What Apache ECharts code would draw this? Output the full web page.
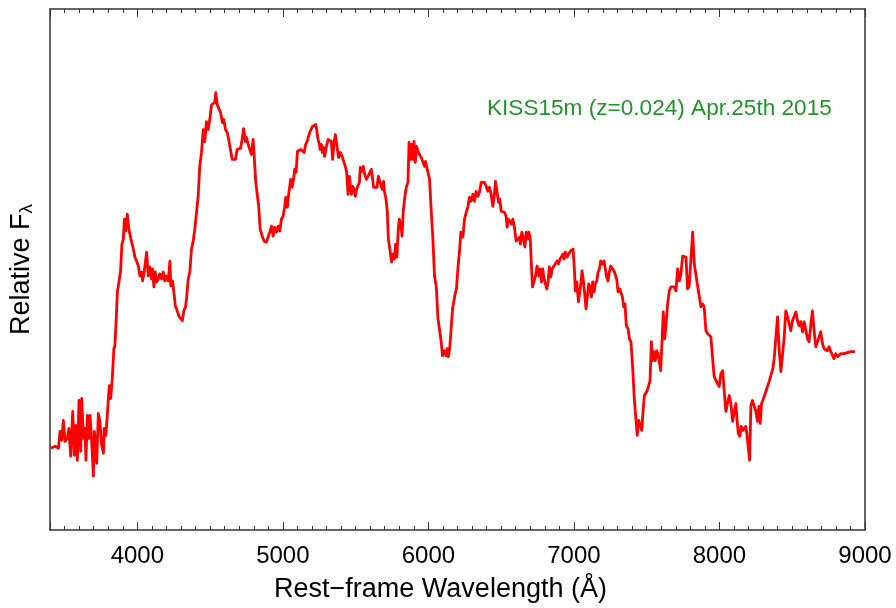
<!DOCTYPE html>
<html>
<head>
<meta charset="utf-8">
<title>KISS15m spectrum</title>
<script src="https://cdn.jsdelivr.net/npm/echarts@6/dist/echarts.min.js"></script>
<style>
  html, body { margin: 0; padding: 0; background: #ffffff; }
  #chart { width: 896px; height: 608px; }
</style>
</head>
<body>
<div id="chart"></div>
<script>
// Rest-frame wavelength range (Å) and relative flux range of the plot frame
const wavelengthRange = [3400, 9000];
const fluxRange = [0, 5.23];

// Spectrum of KISS15m: [rest-frame wavelength (Å), relative flux]
const spectrum = [
  [3405,0.82],[3434,0.84],[3458,0.82],[3469,0.99],[3480,0.90],[3492,1.10],[3503,0.89],[3519,0.92],[3530,1.02],[3542,0.74],
  [3556,1.19],[3567,0.75],[3578,1.05],[3588,0.70],[3599,1.30],[3611,0.79],[3618,1.32],[3629,0.92],[3640,1.02],[3647,0.70],
  [3657,1.15],[3668,0.92],[3675,1.15],[3686,0.90],[3698,0.54],[3705,0.99],[3721,0.67],[3732,1.17],[3743,1.09],[3755,0.85],
  [3767,0.77],[3773,1.02],[3784,0.95],[3794,1.15],[3801,1.32],[3808,1.45],[3817,1.32],[3828,1.52],[3839,1.82],[3846,1.85],
  [3853,2.05],[3863,2.39],[3876,2.40],[3885,2.60],[3894,2.87],[3904,2.92],[3911,3.12],[3920,3.00],[3931,3.17],[3942,3.02],
  [3956,2.92],[3968,2.85],[3977,2.79],[3983,2.74],[3995,2.70],[4007,2.65],[4018,2.55],[4029,2.59],[4036,2.50],[4048,2.60],
  [4057,2.60],[4064,2.79],[4075,2.55],[4086,2.64],[4098,2.52],[4105,2.62],[4114,2.44],[4123,2.59],[4132,2.49],[4144,2.52],
  [4155,2.57],[4167,2.52],[4178,2.59],[4189,2.50],[4201,2.55],[4213,2.50],[4224,2.70],[4230,2.45],[4242,2.50],[4251,2.39],
  [4261,2.25],[4274,2.20],[4285,2.15],[4297,2.17],[4309,2.10],[4320,2.20],[4331,2.24],[4338,2.32],[4350,2.52],[4361,2.59],
  [4372,2.82],[4384,2.90],[4395,3.02],[4407,3.19],[4418,3.35],[4429,3.65],[4441,3.79],[4453,4.02],[4464,3.90],[4475,4.10],
  [4487,4.02],[4498,4.12],[4510,4.27],[4521,4.27],[4532,4.29],[4539,4.39],[4549,4.27],[4560,4.29],[4572,4.19],[4585,4.09],
  [4594,4.12],[4606,4.02],[4618,3.99],[4628,3.92],[4640,3.82],[4652,3.72],[4663,3.70],[4674,3.72],[4686,3.82],[4697,3.80],
  [4709,3.83],[4720,3.92],[4731,4.03],[4743,3.90],[4750,3.94],[4762,3.87],[4773,3.87],[4784,3.77],[4796,3.92],[4807,3.94],
  [4814,3.49],[4825,3.49],[4834,3.25],[4844,3.02],[4858,2.95],[4871,2.90],[4887,2.89],[4899,2.87],[4910,2.99],[4922,3.05],
  [4933,2.95],[4944,3.04],[4956,2.99],[4968,3.05],[4979,3.00],[4990,3.12],[5002,3.15],[5013,3.25],[5020,3.34],[5031,3.24],
  [5040,3.37],[5050,3.35],[5054,3.52],[5064,3.44],[5075,3.54],[5081,3.62],[5091,3.59],[5100,3.80],[5112,3.80],[5123,3.82],
  [5134,3.80],[5146,3.79],[5157,3.87],[5167,3.90],[5177,3.89],[5184,3.99],[5196,3.97],[5203,4.05],[5215,4.07],[5226,4.07],
  [5232,4.02],[5242,3.92],[5251,3.87],[5256,3.82],[5265,3.87],[5272,3.79],[5280,3.84],[5287,3.75],[5299,3.85],[5311,3.92],
  [5322,3.92],[5333,3.90],[5342,3.72],[5352,3.89],[5361,3.97],[5372,3.85],[5383,3.74],[5395,3.79],[5407,3.75],[5418,3.77],
  [5429,3.65],[5438,3.60],[5448,3.37],[5457,3.55],[5464,3.57],[5471,3.37],[5480,3.45],[5489,3.42],[5498,3.35],[5507,3.42],
  [5517,3.44],[5526,3.49],[5532,3.64],[5544,3.60],[5553,3.65],[5562,3.57],[5574,3.52],[5585,3.55],[5596,3.54],[5608,3.62],
  [5615,3.54],[5624,3.44],[5635,3.45],[5647,3.44],[5656,3.55],[5668,3.49],[5676,3.50],[5683,3.42],[5692,3.50],[5699,3.39],
  [5709,3.32],[5718,3.19],[5725,2.92],[5731,2.92],[5738,2.79],[5747,2.69],[5757,2.77],[5766,2.72],[5775,2.87],[5784,2.74],
  [5793,3.02],[5800,3.12],[5812,3.05],[5819,2.95],[5827,3.19],[5836,3.32],[5848,3.44],[5860,3.49],[5867,3.89],[5876,3.72],
  [5884,3.87],[5894,3.72],[5901,3.90],[5910,3.69],[5919,3.85],[5928,3.80],[5939,3.77],[5951,3.74],[5963,3.72],[5974,3.65],
  [5980,3.70],[5990,3.70],[5997,3.59],[6008,3.52],[6020,3.19],[6031,2.92],[6042,2.55],[6054,2.45],[6066,2.12],[6077,2.10],
  [6088,1.89],[6097,1.75],[6109,1.80],[6121,1.75],[6129,1.82],[6138,1.74],[6148,1.85],[6157,1.87],[6166,2.22],[6175,2.24],
  [6184,2.37],[6193,2.42],[6203,2.63],[6214,2.80],[6223,2.99],[6237,2.94],[6248,3.12],[6260,3.19],[6271,3.24],[6282,3.34],
  [6294,3.30],[6306,3.37],[6317,3.30],[6328,3.40],[6340,3.35],[6351,3.39],[6363,3.49],[6374,3.47],[6385,3.49],[6397,3.45],
  [6409,3.40],[6420,3.44],[6431,3.37],[6443,3.25],[6454,3.37],[6461,3.50],[6473,3.52],[6482,3.29],[6491,3.32],[6500,3.20],
  [6512,3.19],[6523,3.19],[6534,3.15],[6541,3.04],[6550,3.12],[6562,3.10],[6573,3.07],[6580,3.12],[6591,3.04],[6603,2.90],
  [6615,2.92],[6626,2.94],[6632,2.87],[6642,2.99],[6653,2.92],[6663,2.84],[6672,2.99],[6683,2.92],[6690,2.99],[6699,2.94],
  [6706,2.95],[6715,2.44],[6724,2.45],[6735,2.54],[6747,2.65],[6759,2.55],[6768,2.62],[6777,2.49],[6786,2.62],[6795,2.52],
  [6804,2.47],[6814,2.42],[6823,2.50],[6831,2.64],[6841,2.54],[6850,2.62],[6862,2.65],[6873,2.65],[6884,2.70],[6893,2.67],
  [6905,2.72],[6914,2.74],[6924,2.77],[6932,2.72],[6941,2.79],[6953,2.74],[6965,2.77],[6976,2.80],[6985,2.82],[6994,2.82],
  [7003,2.62],[7010,2.40],[7020,2.49],[7031,2.29],[7040,2.39],[7049,2.49],[7056,2.60],[7065,2.50],[7074,2.37],[7083,2.22],
  [7092,2.20],[7102,2.47],[7111,2.44],[7120,2.34],[7129,2.49],[7138,2.39],[7147,2.47],[7157,2.50],[7166,2.59],[7175,2.62],
  [7184,2.70],[7195,2.67],[7207,2.70],[7216,2.72],[7225,2.54],[7234,2.50],[7243,2.59],[7253,2.65],[7264,2.64],[7276,2.60],
  [7284,2.59],[7294,2.52],[7303,2.39],[7315,2.42],[7324,2.44],[7333,2.34],[7342,2.24],[7351,2.27],[7360,2.05],[7372,2.02],
  [7381,1.92],[7392,1.89],[7404,1.62],[7415,1.32],[7427,1.09],[7435,0.95],[7445,1.10],[7456,1.10],[7466,1.00],[7475,1.19],
  [7484,1.35],[7495,1.35],[7504,1.40],[7514,1.42],[7523,1.50],[7532,1.89],[7541,1.70],[7550,1.79],[7559,1.70],[7569,1.80],
  [7578,1.77],[7586,1.79],[7596,1.60],[7605,1.89],[7614,2.19],[7624,1.92],[7632,2.05],[7644,2.27],[7655,2.40],[7667,2.44],
  [7678,2.42],[7689,2.44],[7701,2.40],[7713,2.62],[7724,2.50],[7735,2.57],[7747,2.75],[7758,2.77],[7770,2.74],[7781,2.42],
  [7792,2.45],[7804,2.72],[7816,2.99],[7827,2.67],[7838,2.67],[7850,2.45],[7861,2.47],[7873,2.24],[7884,2.27],[7895,2.24],
  [7907,2.00],[7919,1.97],[7930,1.99],[7941,1.94],[7953,1.72],[7964,1.54],[7976,1.55],[7987,1.47],[7998,1.44],[8010,1.57],
  [8022,1.60],[8033,1.39],[8044,1.19],[8056,1.17],[8067,1.35],[8079,1.27],[8090,1.09],[8101,1.10],[8113,1.27],[8120,1.12],
  [8129,0.97],[8140,0.94],[8149,1.04],[8161,1.00],[8170,0.99],[8181,1.04],[8188,0.97],[8197,0.99],[8207,0.70],[8216,1.25],
  [8227,1.30],[8238,1.32],[8250,1.19],[8262,1.09],[8271,1.24],[8280,1.07],[8289,1.27],[8298,1.30],[8310,1.35],[8321,1.40],
  [8330,1.42],[8341,1.49],[8353,1.55],[8367,1.62],[8376,1.72],[8387,1.92],[8399,2.14],[8410,1.82],[8422,1.59],[8435,1.59],
  [8444,1.92],[8456,2.20],[8468,2.14],[8479,2.12],[8490,2.00],[8502,2.10],[8513,2.09],[8525,2.19],[8536,2.10],[8547,2.05],
  [8559,2.09],[8571,1.99],[8582,2.09],[8593,2.09],[8605,1.92],[8616,1.89],[8628,2.07],[8639,2.20],[8650,2.00],[8662,1.84],
  [8674,1.85],[8685,1.94],[8696,1.99],[8708,1.87],[8719,1.82],[8731,1.84],[8742,1.80],[8753,1.84],[8765,1.79],[8776,1.77],
  [8787,1.72],[8799,1.77],[8811,1.74],[8822,1.75],[8833,1.77],[8856,1.77],[8879,1.78],[8902,1.79],[8932,1.79]
];

const xTitle = 'Rest\u2212frame Wavelength (\u00C5)';
const yTitle = 'Relative F';
const ySub = '\u03BB';
const noteText = 'KISS15m (z=0.024) Apr.25th 2015';

const FONT = '"Liberation Sans", Arial, Helvetica, sans-serif';
const FRAME = '#333333';

const chart = echarts.init(document.getElementById('chart'), null, { renderer: 'canvas' });

function frameAxisX(position, showLabels) {
  return {
    type: 'value',
    position: position,
    min: wavelengthRange[0],
    max: wavelengthRange[1],
    splitNumber: 5,
    axisLine: { show: true, onZero: false, lineStyle: { color: FRAME, width: 1.5 } },
    axisTick: { show: true, inside: true, length: 8, lineStyle: { color: FRAME, width: 1 } },
    minorTick: { show: true, splitNumber: 10, length: 4, lineStyle: { color: FRAME, width: 1 } },
    splitLine: { show: false },
    minorSplitLine: { show: false },
    axisLabel: {
      show: showLabels,
      showMinLabel: false,
      margin: 14,
      fontSize: 24,
      fontFamily: FONT,
      color: '#000000',
      formatter: v => String(v)
    }
  };
}

function frameAxisY(position) {
  return {
    type: 'value',
    position: position,
    min: fluxRange[0],
    max: fluxRange[1],
    axisLine: { show: true, onZero: false, lineStyle: { color: FRAME, width: 1.5 } },
    axisTick: { show: false },
    axisLabel: { show: false },
    splitLine: { show: false }
  };
}

const bottomAxis = frameAxisX('bottom', true);
bottomAxis.name = xTitle;
bottomAxis.nameLocation = 'middle';
bottomAxis.nameGap = 46;
bottomAxis.nameTextStyle = { fontSize: 27, fontFamily: FONT, color: '#000000', padding: [0, 34, 0, 0] };

const leftAxis = frameAxisY('left');
leftAxis.name = yTitle + '{sub|' + ySub + '}';
leftAxis.nameLocation = 'middle';
leftAxis.nameRotate = 90;
leftAxis.nameGap = 14;
leftAxis.nameTextStyle = {
  fontSize: 27, fontFamily: FONT, color: '#000000',
  rich: { sub: { fontSize: 19, fontFamily: FONT, color: '#000000', verticalAlign: 'bottom', padding: [10, 0, 0, 0] } }
};

chart.setOption({
  animation: false,
  backgroundColor: '#ffffff',
  grid: { left: 47, top: 9, right: 31, bottom: 76, containLabel: false },
  xAxis: [bottomAxis, frameAxisX('top', false)],
  yAxis: [leftAxis, frameAxisY('right')],
  series: [{
    type: 'line',
    data: spectrum,
    showSymbol: false,
    symbol: 'none',
    lineStyle: { color: '#ff0000', width: 2.8, join: 'round' },
    silent: true
  }],
  graphic: [{
    type: 'text',
    left: 487,
    top: 97,
    style: { text: noteText, font: '22.6px ' + FONT, fill: '#22942a' },
    silent: true
  }]
});
</script>
</body>
</html>
